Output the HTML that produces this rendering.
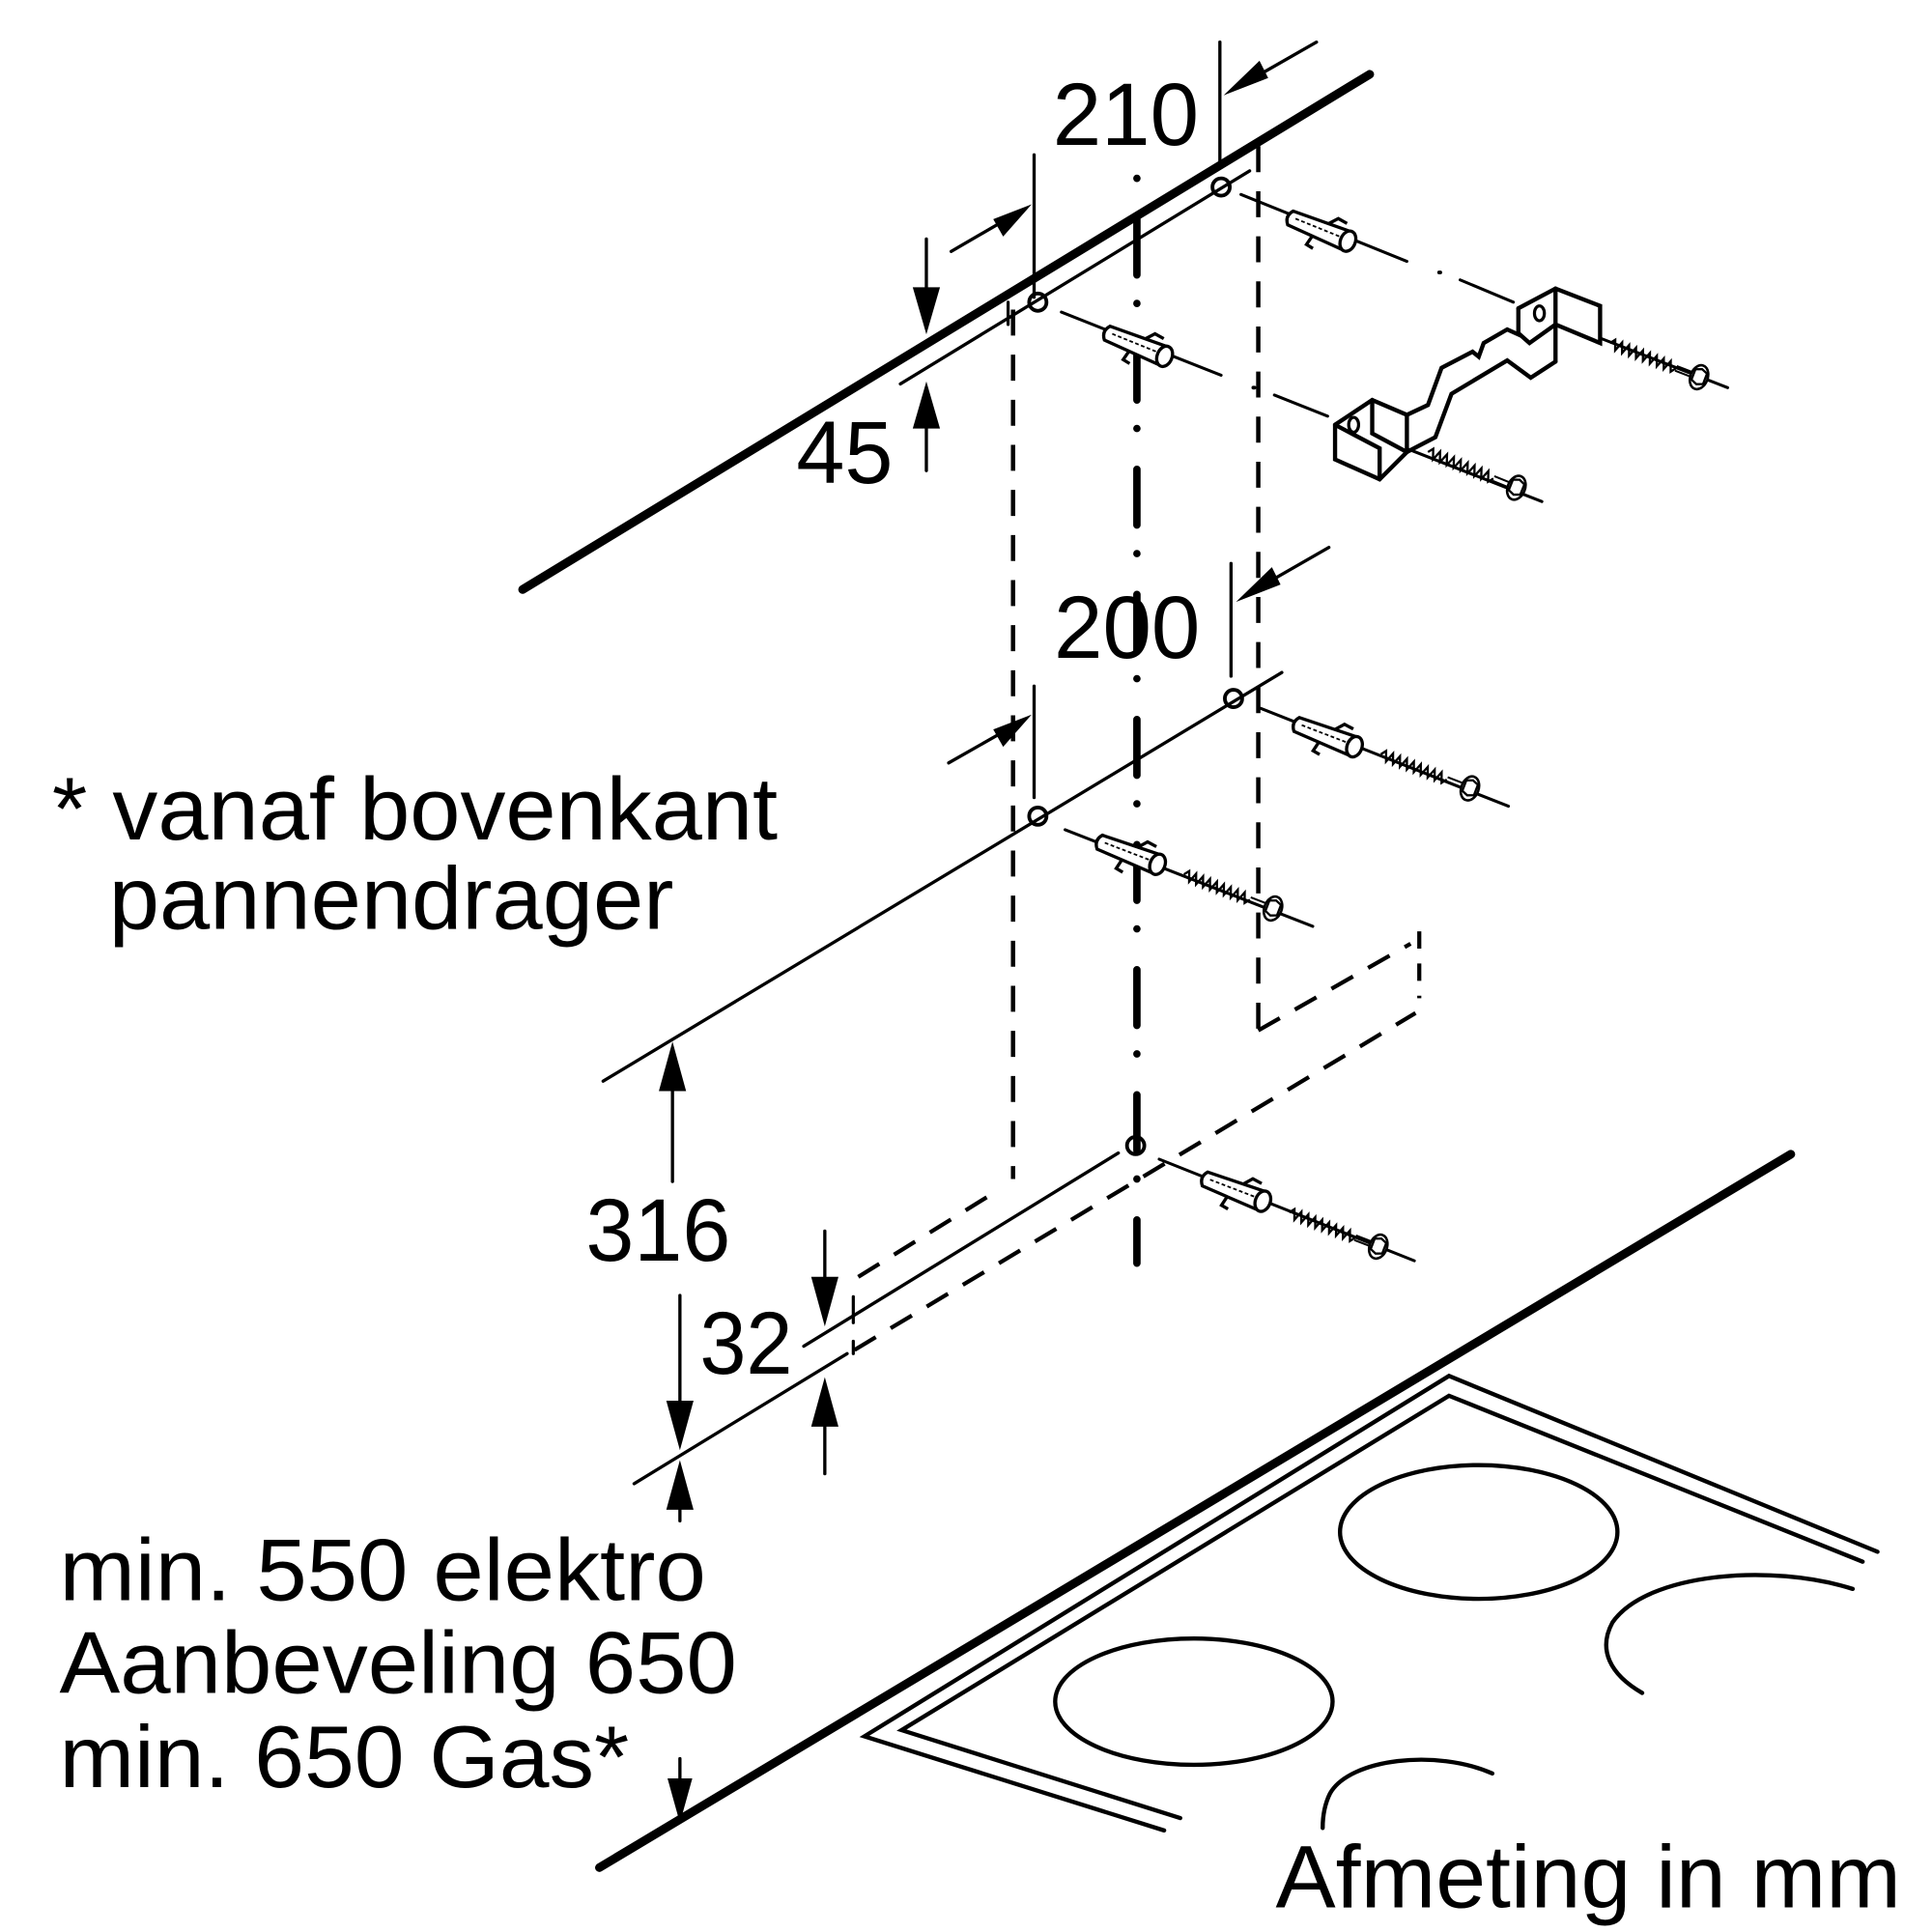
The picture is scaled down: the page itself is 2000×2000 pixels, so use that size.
<!DOCTYPE html>
<html><head><meta charset="utf-8"><style>
html,body{margin:0;padding:0;background:#fff;}
svg{display:block;}
text{font-family:"Liberation Sans",Arial,sans-serif;fill:#000;}
</style></head><body>
<svg width="2000" height="2000" viewBox="0 0 1560 1560" xmlns="http://www.w3.org/2000/svg">
<defs>
<g id="dowel">
  <path d="M0,-6 L48,-8 L48,8 L0,6 Q-5,0 0,-6 Z" fill="#fff" stroke="#000" stroke-width="2.6"/>
  <path d="M4,-1 L44,-1" stroke="#000" stroke-width="1.4" stroke-dasharray="3 2"/>
  <ellipse cx="50" cy="0" rx="6" ry="8.5" fill="#fff" stroke="#000" stroke-width="2.6"/>
  <path d="M30,-7 L36,-14 L44,-13 M22,6 L20,15 L26,16" fill="none" stroke="#000" stroke-width="2.6"/>
</g>
<g id="screw">
  <path d="M0,0 L3,-4 L6,4 L9,-4 L12,4 L15,-4 L18,4 L21,-4 L24,4 L27,-4 L30,4 L33,-4 L36,4 L39,-4 L42,4 L45,-4 L48,4 L51,-4 L54,4 L57,0" fill="none" stroke="#000" stroke-width="1.8"/>
  <path d="M57,-2 L70,-2 M57,2 L70,2" stroke="#000" stroke-width="1.6"/>
  <ellipse cx="77" cy="0" rx="7" ry="10" fill="#fff" stroke="#000" stroke-width="2"/>
  <polygon points="72,-5 77,-7 82,-5 82,4 77,6 72,4" fill="#fff" stroke="#000" stroke-width="1.8"/>
</g>
</defs>

<g stroke="#000" fill="none" stroke-linecap="round">
<line x1="422" y1="476" x2="1106" y2="60" stroke-width="7"/>
<line x1="484" y1="1508" x2="1446" y2="932" stroke-width="7"/>

<line x1="727" y1="310" x2="1009" y2="138" stroke-width="2.6"/>
<line x1="487" y1="873" x2="1035" y2="543" stroke-width="2.6"/>
<line x1="649" y1="1087" x2="903" y2="931" stroke-width="2.6"/>
<line x1="512" y1="1198" x2="684" y2="1093" stroke-width="2.6"/>

<line x1="814" y1="244" x2="814" y2="262" stroke-width="2.5"/>
<line x1="689" y1="1047" x2="689" y2="1068" stroke-width="2.5"/>
<line x1="689" y1="1083" x2="689" y2="1093" stroke-width="2.5"/>

<line x1="818" y1="250" x2="818" y2="952" stroke-width="3.5" stroke-linecap="butt" stroke-dasharray="21 15.4"/>
<line x1="1016" y1="118" x2="1016" y2="832" stroke-width="3.5" stroke-linecap="butt" stroke-dasharray="21 15.4"/>

<line x1="918" y1="144" x2="918" y2="1020" stroke-width="6" stroke-dasharray="0 33 45 23"/>

<line x1="693" y1="1031" x2="806" y2="961" stroke-width="3.3" stroke-linecap="butt" stroke-dasharray="20 14"/>
<line x1="690" y1="1090" x2="1143" y2="818" stroke-width="3.3" stroke-linecap="butt" stroke-dasharray="20 14"/>
<line x1="1016" y1="832" x2="1139" y2="762" stroke-width="3.3" stroke-linecap="butt" stroke-dasharray="20 14"/>
<line x1="1146" y1="752" x2="1146" y2="806" stroke-width="3.3" stroke-linecap="butt" stroke-dasharray="14 12"/>

<circle cx="986" cy="151" r="7" stroke-width="3"/>
<circle cx="838" cy="244" r="7" stroke-width="3"/>
<circle cx="996" cy="564" r="7" stroke-width="3"/>
<circle cx="838" cy="659" r="7" stroke-width="3"/>
<circle cx="917" cy="925" r="7" stroke-width="3"/>

<line x1="1002" y1="157" x2="1136" y2="211" stroke-width="2.4"/>
<line x1="1162" y1="220" x2="1163" y2="220" stroke-width="3"/>
<line x1="1179" y1="226" x2="1222" y2="244" stroke-width="2.4"/>
<line x1="1292" y1="273" x2="1395" y2="313" stroke-width="2.4"/>
<line x1="857" y1="252" x2="986" y2="303" stroke-width="2.4"/>
<line x1="1012" y1="313" x2="1013" y2="313" stroke-width="3"/>
<line x1="1029" y1="319" x2="1072" y2="336" stroke-width="2.4"/>
<line x1="1138" y1="363" x2="1245" y2="405" stroke-width="2.4"/>
<line x1="1018" y1="572" x2="1218" y2="651" stroke-width="2.4"/>
<line x1="860" y1="670" x2="1060" y2="748" stroke-width="2.4"/>
<line x1="936" y1="936" x2="1142" y2="1018" stroke-width="2.4"/>

<g stroke-width="3.4" stroke-linejoin="miter">
<polyline points="1078,343 1108,323 1136,335 1136,365 1114,387 1078,371 1078,343"/>
<polyline points="1078,343 1114,362 1114,387"/>
<polyline points="1108,323 1108,350 1136,365"/>
<ellipse cx="1093" cy="343" rx="4" ry="6" stroke-width="2.5"/>
<polyline points="1136,335 1153,327 1164,297 1189,284 1194,288 1198,277 1217,266 1228,271"/>
<polyline points="1136,365 1159,353 1172,318 1217,291 1236,305 1256,292"/>
<polyline points="1226,249 1256,233 1292,247 1292,277 1256,262"/>
<polyline points="1256,233 1256,292"/>
<polyline points="1226,249 1226,269 1235,277 1256,262"/>
<ellipse cx="1243" cy="253" rx="4" ry="6" stroke-width="2.5"/>
</g>
</g>

<use href="#dowel" transform="translate(1042,176) rotate(22)"/>
<use href="#dowel" transform="translate(894,269) rotate(22)"/>
<use href="#dowel" transform="translate(1047,585) rotate(21)"/>
<use href="#dowel" transform="translate(888,680) rotate(21)"/>
<use href="#dowel" transform="translate(973,952) rotate(21)"/>
<use href="#screw" transform="translate(1300,277) rotate(21)"/>
<use href="#screw" transform="translate(1153,365) rotate(22)"/>
<use href="#screw" transform="translate(1115,609) rotate(21)"/>
<use href="#screw" transform="translate(956,706) rotate(21)"/>
<use href="#screw" transform="translate(1041,979) rotate(21)"/>

<g stroke="#000" stroke-width="2.6" fill="none" stroke-linecap="round">
<line x1="985" y1="34" x2="985" y2="135"/>
<line x1="1063" y1="34" x2="1000" y2="70"/>
<line x1="835" y1="125" x2="835" y2="240"/>
<line x1="768" y1="203" x2="818" y2="174"/>
<line x1="748" y1="193" x2="748" y2="240"/>
<line x1="748" y1="380" x2="748" y2="340"/>
<line x1="994" y1="455" x2="994" y2="546"/>
<line x1="1073" y1="442" x2="1012" y2="477"/>
<line x1="835" y1="554" x2="835" y2="644"/>
<line x1="766" y1="616" x2="817" y2="587"/>
<line x1="543" y1="954" x2="543" y2="880"/>
<line x1="549" y1="1046" x2="549" y2="1135"/>
<line x1="549" y1="1228" x2="549" y2="1215"/>
<line x1="666" y1="994" x2="666" y2="1035"/>
<line x1="666" y1="1190" x2="666" y2="1150"/>
<line x1="549" y1="1420" x2="549" y2="1440"/>
</g>
<g fill="#000">
<polygon points="988,77 1017,49 1024,63"/>
<polygon points="833,165 802,177 810,191"/>
<polygon points="748,270 737,232 759,232"/>
<polygon points="748,308 737,346 759,346"/>
<polygon points="998,486 1027,458 1034,472"/>
<polygon points="833,577 802,589 810,603"/>
<polygon points="543,841 532,881 554,881"/>
<polygon points="549,1171 538,1131 560,1131"/>
<polygon points="549,1179 538,1219 560,1219"/>
<polygon points="666,1071 655,1031 677,1031"/>
<polygon points="666,1112 655,1152 677,1152"/>
<polygon points="549,1472 539,1436 559,1436"/>
</g>

<g stroke="#000" stroke-width="3.4" fill="none" stroke-linecap="round" stroke-linejoin="miter">
<polyline points="940,1478 698,1402 1170,1111 1516,1253"/>
<polyline points="953,1468 728,1397 1170,1127 1504,1261"/>
<ellipse cx="1194" cy="1237" rx="112" ry="54"/>
<ellipse cx="964" cy="1374" rx="112" ry="51"/>
<path d="M1496,1283 C1430,1262 1330,1270 1302,1310 C1290,1332 1300,1352 1326,1367"/>
<path d="M1205,1432 C1160,1412 1090,1420 1074,1448 C1069,1458 1068,1468 1068,1476"/>
</g>

<text x="850" y="117" font-size="72" textLength="118" lengthAdjust="spacingAndGlyphs">210</text>
<text x="643" y="390" font-size="72" textLength="78" lengthAdjust="spacingAndGlyphs">45</text>
<text x="851" y="531" font-size="72" textLength="118" lengthAdjust="spacingAndGlyphs">200</text>
<text x="42" y="678" font-size="72" textLength="586" lengthAdjust="spacingAndGlyphs">* vanaf bovenkant</text>
<text x="88" y="750" font-size="72" textLength="456" lengthAdjust="spacingAndGlyphs">pannendrager</text>
<text x="473" y="1018" font-size="72" textLength="117" lengthAdjust="spacingAndGlyphs">316</text>
<text x="565" y="1109" font-size="72" textLength="75" lengthAdjust="spacingAndGlyphs">32</text>
<text x="48" y="1292" font-size="71" textLength="522" lengthAdjust="spacingAndGlyphs">min. 550 elektro</text>
<text x="48" y="1367" font-size="71" textLength="547" lengthAdjust="spacingAndGlyphs">Aanbeveling 650</text>
<text x="48" y="1443" font-size="71" textLength="460" lengthAdjust="spacingAndGlyphs">min. 650 Gas*</text>
<text x="1030" y="1540" font-size="72" textLength="505" lengthAdjust="spacingAndGlyphs">Afmeting in mm</text>
</svg>
</body></html>
